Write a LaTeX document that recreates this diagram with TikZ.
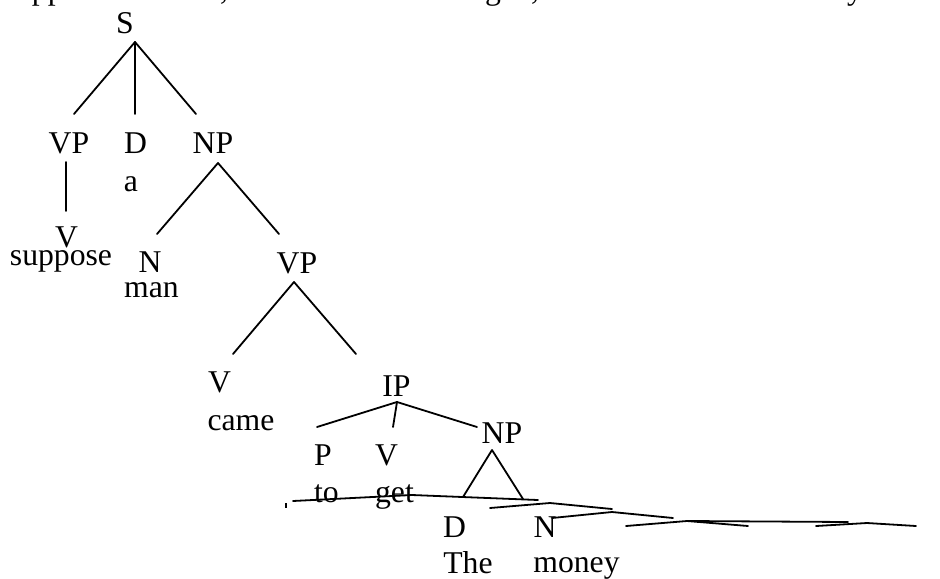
\documentclass[tikz,border=0pt]{standalone}
\usepackage{fontspec}
\setmainfont{Liberation Serif}
\begin{document}
\begin{tikzpicture}[x=0.5pt,y=-0.5pt,
  lbl/.style={inner sep=0pt,outer sep=0pt,anchor=base,font=\fontsize{15.85}{19}\selectfont},
  frag/.style={inner sep=0pt,outer sep=0pt,anchor=base west,font=\fontsize{15.85}{19}\selectfont},
  edge/.style={line width=0.9pt,line cap=round,line join=round}]
\path[use as bounding box,clip] (0,0) rectangle (940,578);
% cut-off text line at the top
\node[frag] (t1) at (32,0) {pp};
\node[frag] (t2) at (220,0) {,};
\node[frag] (t3) at (485,0) {g};
\node[frag] (t4) at (531,0) {,};
\node[frag] (t5) at (847,0) {y};
% labels
\node[lbl] (S) at (125,33) {S};
\node[lbl] (VPa) at (69,153) {VP};
\node[lbl] (Da) at (135.5,153) {D};
\node[lbl] (NPa) at (213,153) {NP};
\node[lbl] (wa) at (131,191) {a};
\node[lbl] (Va) at (66.5,247) {V};
\node[lbl] (wsuppose) at (61,265) {suppose};
\node[lbl] (Na) at (150,272) {N};
\node[lbl] (wman) at (151.5,297) {man};
\node[lbl] (VPb) at (297,273) {VP};
\node[lbl] (Vb) at (219.5,392) {V};
\node[lbl] (wcame) at (241,430) {came};
\node[lbl] (IP) at (396.5,396) {IP};
\node[lbl] (NPb) at (502,443) {NP};
\node[lbl] (P) at (323,465) {P};
\node[lbl] (Vc) at (386.5,465) {V};
\node[lbl] (wto) at (326.5,502) {to};
\node[lbl] (wget) at (394.5,502) {get};
\node[lbl] (Db) at (454.5,537) {D};
\node[lbl] (wthe) at (468,573) {The};
\node[lbl] (Nb) at (545,537) {N};
\node[lbl] (wmoney) at (576.5,572) {money};
% branch points
\coordinate (S-ap) at (135,42);
\coordinate (S-l) at (74,114);
\coordinate (S-m) at (135,114);
\coordinate (S-r) at (196,114);
\coordinate (VPa-t) at (66,162);
\coordinate (VPa-b) at (66,211);
\coordinate (NPa-ap) at (218,163);
\coordinate (NPa-l) at (157,234);
\coordinate (NPa-r) at (279,234);
\coordinate (VPb-ap) at (294,282);
\coordinate (VPb-l) at (233,354);
\coordinate (VPb-r) at (356,354);
\coordinate (IP-ap) at (397,402);
\coordinate (IP-l) at (317,427);
\coordinate (IP-m) at (393,427);
\coordinate (IP-r) at (477,427);
\coordinate (NPb-ap) at (492,450);
\coordinate (NPb-l) at (463,497);
\coordinate (NPb-r) at (523,499);
\coordinate (A1) at (293,501);
\coordinate (A2) at (412,495);
\coordinate (A3) at (538,500);
\coordinate (B1) at (490,508);
\coordinate (B2) at (550,503);
\coordinate (B3) at (612,509);
\coordinate (C1) at (552,518);
\coordinate (C2) at (612,512);
\coordinate (C3) at (673,518);
\coordinate (D1) at (626,526);
\coordinate (D2) at (687,521);
\coordinate (D3) at (748,526);
\coordinate (D4) at (848,522);
\coordinate (E1) at (816,526);
\coordinate (E2) at (867,523);
\coordinate (E3) at (916,526);
\coordinate (K1) at (286,503);
\coordinate (K2) at (286,508);
% connectors
\draw[edge] (S-ap) -- (S-l);
\draw[edge] (S-ap) -- (S-m);
\draw[edge] (S-ap) -- (S-r);
\draw[edge] (VPa-t) -- (VPa-b);
\draw[edge] (NPa-ap) -- (NPa-l);
\draw[edge] (NPa-ap) -- (NPa-r);
\draw[edge] (VPb-ap) -- (VPb-l);
\draw[edge] (VPb-ap) -- (VPb-r);
\draw[edge] (IP-ap) -- (IP-l);
\draw[edge] (IP-ap) -- (IP-m);
\draw[edge] (IP-ap) -- (IP-r);
\draw[edge] (NPb-l) -- (NPb-ap) -- (NPb-r);
\draw[edge] (A1) -- (A2) -- (A3);
\draw[edge] (B1) -- (B2) -- (B3);
\draw[edge] (C1) -- (C2) -- (C3);
\draw[edge] (D1) -- (D2) -- (D3);
\draw[edge] (D2) -- (D4);
\draw[edge] (E1) -- (E2) -- (E3);
\draw[line width=0.8pt] (K1) -- (K2);
\end{tikzpicture}
\end{document}
